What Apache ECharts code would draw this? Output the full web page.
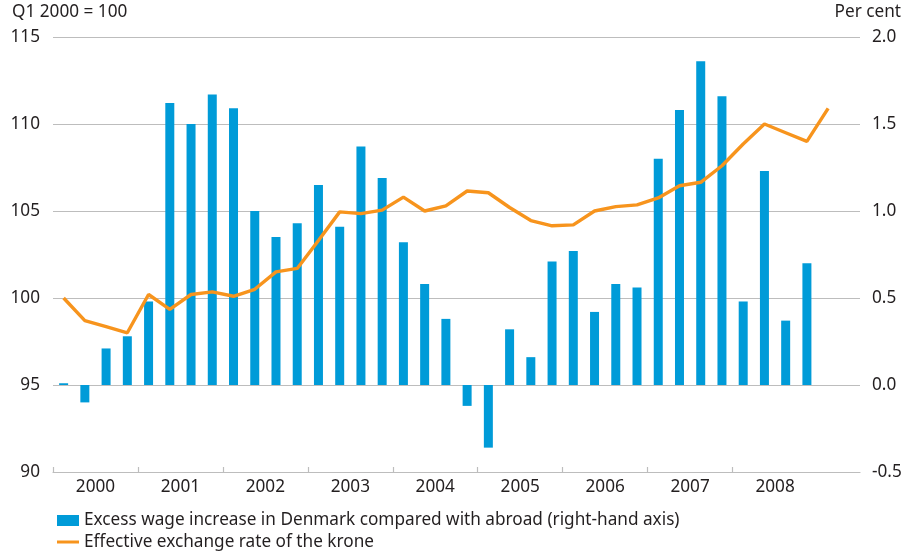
<!DOCTYPE html>
<html>
<head>
<meta charset="utf-8">
<script src="https://cdn.jsdelivr.net/npm/echarts@6/dist/echarts.min.js"></script>
<style>
html,body{margin:0;padding:0;background:#fff;}
#c{width:908px;height:555px;}
</style>
</head>
<body>
<div id="c"></div>
<script>
// Quarterly categories 2000Q1 .. 2009Q2
const quarters = [
  '2000Q1','2000Q2','2000Q3','2000Q4',
  '2001Q1','2001Q2','2001Q3','2001Q4',
  '2002Q1','2002Q2','2002Q3','2002Q4',
  '2003Q1','2003Q2','2003Q3','2003Q4',
  '2004Q1','2004Q2','2004Q3','2004Q4',
  '2005Q1','2005Q2','2005Q3','2005Q4',
  '2006Q1','2006Q2','2006Q3','2006Q4',
  '2007Q1','2007Q2','2007Q3','2007Q4',
  '2008Q1','2008Q2','2008Q3','2008Q4',
  '2009Q1','2009Q2'
];
const yearLabels = ['2000','2001','2002','2003','2004','2005','2006','2007','2008'];

// Excess wage increase in Denmark compared with abroad (per cent, right-hand axis)
const excessWage = [
  0.01, -0.10, 0.21, 0.28,
  0.48, 1.62, 1.50, 1.67,
  1.59, 1.00, 0.85, 0.93,
  1.15, 0.91, 1.37, 1.19,
  0.82, 0.58, 0.38, -0.12,
  -0.36, 0.32, 0.16, 0.71,
  0.77, 0.42, 0.58, 0.56,
  1.30, 1.58, 1.86, 1.66,
  0.48, 1.23, 0.37, 0.70
];

// Effective exchange rate of the krone (Q1 2000 = 100)
const exchangeRate = [
  100.0, 98.7, 98.35, 98.0,
  100.2, 99.35, 100.2, 100.35,
  100.1, 100.5, 101.5, 101.7,
  103.3, 104.95, 104.85, 105.05,
  105.8, 105.0, 105.3, 106.15,
  106.05, 105.2, 104.45, 104.15,
  104.2, 105.0, 105.25, 105.35,
  105.75, 106.45, 106.65, 107.6,
  108.85, 110.0, 109.5, 109.0,
  110.9
];

const leftTicks = {min: 90, max: 115, interval: 5};
const rightTicks = {min: -0.5, max: 2.0, interval: 0.5};

const FONT = 'Noto Sans';
const FS = 17.2;
const TXT = '#231f20';
const GRID = '#bdbdbd';
const BLUE = '#009bd8';
const ORANGE = '#f7941d';

const chart = echarts.init(document.getElementById('c'), null, {renderer: 'canvas'});
chart.setOption({
  animation: false,
  textStyle: {fontFamily: FONT, color: TXT},
  title: [
    {text: 'Q1 2000 = 100', left: 12, top: 4, padding: 0,
     textStyle: {fontFamily: FONT, fontSize: FS, fontWeight: 'normal', color: TXT}},
    {text: 'Per cent', right: 7, top: 4, padding: 0,
     textStyle: {fontFamily: FONT, fontSize: FS, fontWeight: 'normal', color: TXT}}
  ],
  grid: {left: 53, right: 48, top: 37, bottom: 83, containLabel: false},
  legend: {
    orient: 'vertical', left: 57, top: 512, padding: 0,
    itemWidth: 22, itemHeight: 11, itemGap: 4.5, itemTextGap: 5,
    textStyle: {fontFamily: FONT, fontSize: FS, color: TXT, lineHeight: 17},
    data: [
      {name: 'Excess wage increase in Denmark compared with abroad (right-hand axis)', icon: 'rect'},
      {name: 'Effective exchange rate of the krone',
       icon: 'path://M0,0 M22,11 M0,4 L22,4 L22,7 L0,7 Z'}
    ]
  },
  xAxis: [
    {type: 'category', data: quarters, show: false, boundaryGap: true},
    {type: 'value', position: 'bottom', min: 0, max: quarters.length,
     axisLine: {show: true, lineStyle: {color: GRID, width: 1.2}},
     axisTick: {show: true, inside: true, length: 5, lineStyle: {color: GRID, width: 1.2},
                customValues: yearLabels.map((y, i) => i * 4)},
     axisLabel: {show: true, margin: 7, fontFamily: FONT, fontSize: FS, color: TXT,
                 customValues: yearLabels.map((y, i) => i * 4 + 2),
                 formatter: v => yearLabels[(v - 2) / 4]},
     splitLine: {show: false}}
  ],
  yAxis: [
    {type: 'value', position: 'left', min: leftTicks.min, max: leftTicks.max, interval: leftTicks.interval,
     axisLine: {show: false}, axisTick: {show: false},
     axisLabel: {margin: 13, fontFamily: FONT, fontSize: FS, color: TXT},
     splitLine: {show: true, lineStyle: {color: GRID, width: 1.2}}},
    {type: 'value', position: 'right', min: rightTicks.min, max: rightTicks.max, interval: rightTicks.interval,
     axisLine: {show: false}, axisTick: {show: false},
     axisLabel: {margin: 12, fontFamily: FONT, fontSize: FS, color: TXT, formatter: v => v.toFixed(1)},
     splitLine: {show: false}}
  ],
  series: [
    {name: 'Excess wage increase in Denmark compared with abroad (right-hand axis)',
     type: 'bar', xAxisIndex: 0, yAxisIndex: 1, data: excessWage,
     barWidth: 9, itemStyle: {color: BLUE}},
    {name: 'Effective exchange rate of the krone',
     type: 'line', xAxisIndex: 0, yAxisIndex: 0, data: exchangeRate,
     symbol: 'none', lineStyle: {color: ORANGE, width: 3.4}, itemStyle: {color: ORANGE}}
  ]
});
</script>
</body>
</html>
